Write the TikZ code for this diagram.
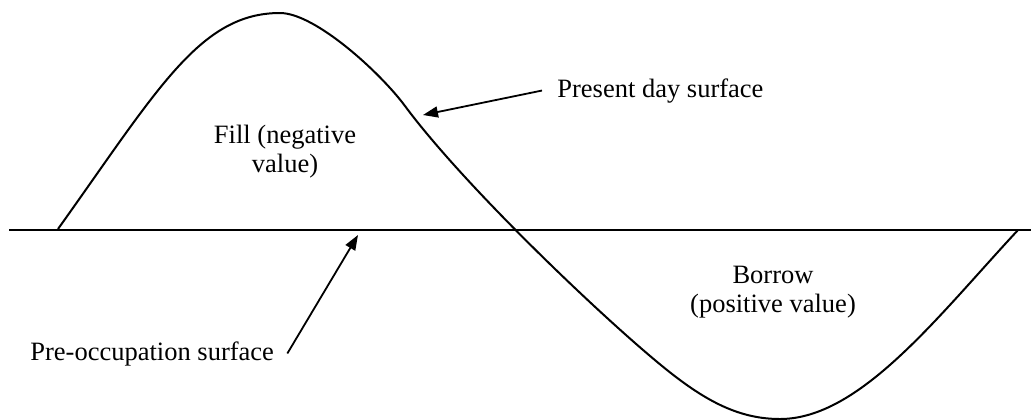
\documentclass[tikz,border=0pt]{standalone}
\usepackage{fontspec}
\setmainfont{Liberation Serif}
\usetikzlibrary{arrows.meta}
\begin{document}
\begin{tikzpicture}[x=0.5pt,y=-0.5pt,
  lbl/.style={inner sep=0pt,font=\fontsize{13.25}{14.5}\selectfont},
  arr/.style={line width=0.9pt,-{Triangle[length=7.5pt,width=5.5pt]}},
  surf/.style={line width=1pt}]
\useasboundingbox (0,0) rectangle (1031,419);
% pre-occupation surface
\draw[surf] (9,229.5) -- (1031,229.5);
% present day surface
\draw[surf] (58,229) .. controls (158,89) and (200,13) .. (280,13)
  .. controls (315,13) and (380,72.25) .. (405,106)
  .. controls (465,187) and (607,322) .. (667,370)
  .. controls (707,402) and (740,419) .. (780,419)
  .. controls (860,419) and (938,316) .. (1018,230);
% labels
\node[lbl,align=center] (fill) at (285,152) {Fill (negative\\value)};
\node[lbl,align=center] (borrow) at (773,292) {Borrow\\(positive value)};
\node[lbl,anchor=base west,inner xsep=7.5pt] (pds) at (542,97) {Present day surface};
\node[lbl,anchor=base west,inner xsep=6.5pt] (pos) at (17,360) {Pre-occupation surface};
\coordinate (pdstip) at (423,115);
\coordinate (postip) at (358,235);
\draw[arr] (pds.west) -- (pdstip);
\draw[arr] (pos.east) -- (postip);
\end{tikzpicture}
\end{document}
